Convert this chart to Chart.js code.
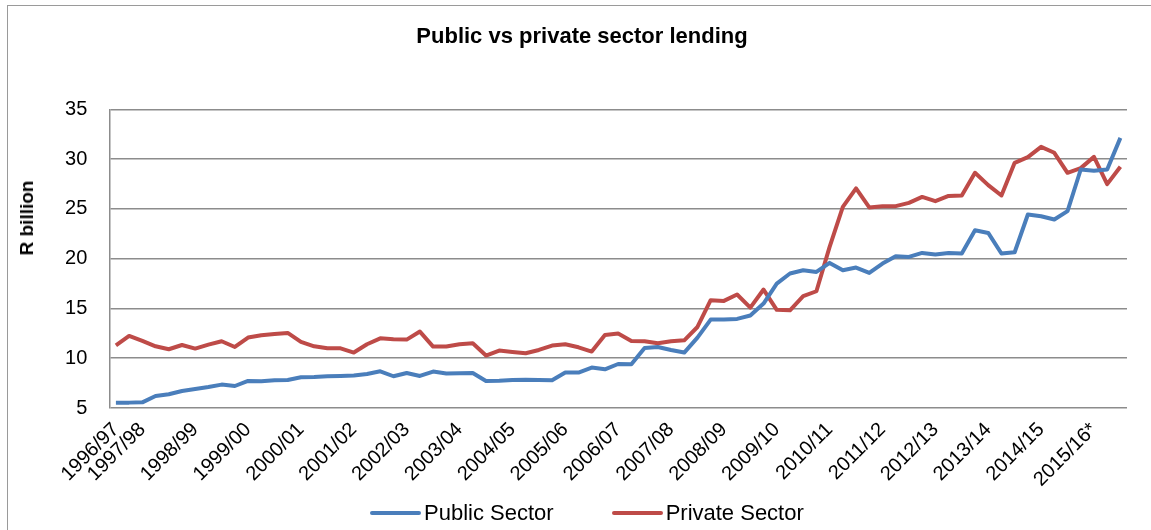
<!DOCTYPE html>
<html>
<head>
<meta charset="utf-8">
<script src="https://cdn.jsdelivr.net/npm/chart.js@4.4.1/dist/chart.umd.min.js"></script>
<style>
  html, body { margin: 0; padding: 0; background: #fff; overflow: hidden; }
  #wrap { position: relative; width: 1151px; height: 530px; overflow: hidden; font-family: "Liberation Sans", Arial, sans-serif; }
  #frame { position: absolute; left: 7px; top: 5px; width: 1160px; height: 540px; border-left: 1px solid #9a9a9a; border-top: 1px solid #9a9a9a; }
  canvas { position: absolute; left: 0; top: 0; }
  #yTitle { position: absolute; left: 27px; top: 218px; transform: translate(-50%, -50%) rotate(-90deg); font-size: 19px; font-weight: bold; white-space: nowrap; }
  #legend { position: absolute; left: 370px; top: 500px; height: 26px; display: flex; align-items: center; font-size: 22px; }
  .item { display: flex; align-items: center; }
  .item + .item { margin-left: 58px; }
  .swatch { width: 51px; height: 4px; border-radius: 2px; margin-right: 3px; }
</style>
</head>
<body>
<div id="wrap">
  <div id="frame"></div>
  <canvas id="lendingChart" width="1151" height="530"></canvas>
  <div id="yTitle">R billion</div>
  <div id="legend"></div>
</div>
<script>
// fiscal years shown on the axis, and how many quarters of each are in the data
const yearLabels = ['1996/97', '1997/98', '1998/99', '1999/00', '2000/01', '2001/02', '2002/03',
  '2003/04', '2004/05', '2005/06', '2006/07', '2007/08', '2008/09', '2009/10', '2010/11',
  '2011/12', '2012/13', '2013/14', '2014/15', '2015/16*'];
const quartersPerYear = [2, 4, 4, 4, 4, 4, 4, 4, 4, 4, 4, 4, 4, 4, 4, 4, 4, 4, 4, 3];

// R billion, quarterly
const publicSector = [
  5.54, 5.54, 5.57, 6.21, 6.38, 6.71, 6.91, 7.11, 7.35, 7.21,
  7.72, 7.68, 7.78, 7.82, 8.09, 8.12, 8.19, 8.22, 8.26, 8.42,
  8.69, 8.19, 8.52, 8.22, 8.66, 8.46, 8.49, 8.52, 7.72, 7.75,
  7.82, 7.85, 7.82, 7.78, 8.56, 8.56, 9.06, 8.89, 9.42, 9.39,
  11.03, 11.13, 10.83, 10.57, 12.07, 13.88, 13.88, 13.95, 14.29, 15.49,
  17.5, 18.51, 18.84, 18.67, 19.58, 18.84, 19.11, 18.57, 19.51, 20.25,
  20.18, 20.58, 20.42, 20.58, 20.52, 22.86, 22.59, 20.52, 20.65, 24.44,
  24.27, 23.94, 24.78, 28.96, 28.83, 28.96, 32.14
];
const privateSector = [
  11.3, 12.24, 11.74, 11.2, 10.9, 11.33, 10.97, 11.37, 11.71, 11.13,
  12.08, 12.31, 12.44, 12.54, 11.64, 11.2, 11.0, 11.0, 10.57, 11.4,
  12.0, 11.9, 11.87, 12.68, 11.17, 11.17, 11.4, 11.5, 10.27, 10.77,
  10.63, 10.5, 10.83, 11.27, 11.4, 11.1, 10.67, 12.34, 12.48, 11.74,
  11.7, 11.5, 11.7, 11.8, 13.14, 15.83, 15.76, 16.4, 15.09, 16.9,
  14.86, 14.82, 16.23, 16.73, 21.19, 25.21, 27.06, 25.15, 25.28, 25.28,
  25.61, 26.21, 25.78, 26.31, 26.35, 28.63, 27.39, 26.35, 29.63, 30.2,
  31.24, 30.64, 28.63, 29.1, 30.23, 27.49, 29.23
];

// one category per quarter, year name on the first quarter of each year
const categories = [];
yearLabels.forEach((y, i) => {
  for (let q = 0; q < quartersPerYear[i]; q++) categories.push(q === 0 ? y : '');
});

Chart.defaults.font.family = '"Liberation Sans", Arial, sans-serif';
Chart.defaults.color = '#000';

const gridGrey = '#8c8c8c';

const ctx = document.getElementById('lendingChart').getContext('2d');
const chart = new Chart(ctx, {
  type: 'line',
  data: {
    labels: categories,
    datasets: [{
      label: 'Public Sector',
      data: publicSector,
      borderColor: '#4A7EBB',
      backgroundColor: '#4A7EBB',
      borderWidth: 4,
      pointRadius: 0,
      borderJoinStyle: 'round'
    }, {
      label: 'Private Sector',
      data: privateSector,
      borderColor: '#BE4B48',
      backgroundColor: '#BE4B48',
      borderWidth: 4,
      pointRadius: 0,
      borderJoinStyle: 'round'
    }]
  },
  options: {
    responsive: false,
    animation: false,
    layout: { padding: { left: 37, right: 24, top: 0, bottom: 22 } },
    plugins: {
      title: {
        display: true,
        text: 'Public vs private sector lending',
        font: { size: 22, weight: 'bold' },
        color: '#000',
        padding: { top: 24, bottom: 59 }
      },
      legend: { display: false },
      tooltip: { enabled: false }
    },
    scales: {
      x: {
        offset: true,
        grid: { display: false, drawTicks: false },
        border: { display: false },
        ticks: { autoSkip: false, minRotation: 45, maxRotation: 45, padding: 10, font: { size: 20 } },
        afterFit: s => { s.height = 100; }
      },
      y: {
        min: 5,
        max: 35,
        ticks: { stepSize: 5, padding: 22, font: { size: 20 } },
        grid: { color: gridGrey, lineWidth: 1.5, drawTicks: false },
        border: { color: gridGrey, width: 1.5 },
        afterFit: s => { s.width = 72.3; }
      }
    }
  }
});

// html legend built from the datasets
const legendEl = document.getElementById('legend');
chart.data.datasets.forEach(ds => {
  const item = document.createElement('div');
  item.className = 'item';
  const swatch = document.createElement('span');
  swatch.className = 'swatch';
  swatch.style.background = ds.borderColor;
  const text = document.createElement('span');
  text.textContent = ds.label;
  item.appendChild(swatch);
  item.appendChild(text);
  legendEl.appendChild(item);
});
</script>
</body>
</html>
